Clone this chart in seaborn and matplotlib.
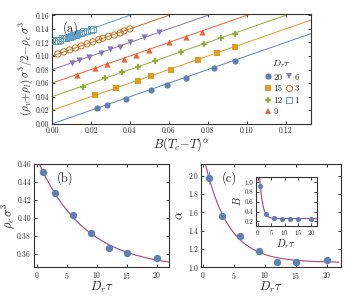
import numpy as np
import pandas as pd
import matplotlib
matplotlib.use("Agg")
import matplotlib.pyplot as plt
import seaborn as sns
from matplotlib.ticker import FormatStrFormatter, MultipleLocator
from matplotlib.lines import Line2D

# ---- panel (a): scaled order parameter vs B(Tc-T)^alpha, shifted by offset
dr_labels = ["20", "15", "12", "9", "6", "3", "1"]
offsets = [0.00, 0.02, 0.04, 0.06, 0.08, 0.10, 0.12]
colors = ["#5E81B5", "#E19C24", "#8FB131", "#EB6235", "#8778B6", "#C56E1A", "#5D9EC7"]
markers = ["o", "s", "P", "^", "v", "o", "s"]
filled = [True, True, True, True, True, False, False]

x20 = [0.023, 0.028, 0.038, 0.051, 0.059, 0.069, 0.083, 0.094]
y20 = [0.023, 0.028, 0.037, 0.050, 0.057, 0.068, 0.082, 0.092]
x15 = [0.022, 0.033, 0.044, 0.051, 0.061, 0.075, 0.085, 0.094]
y15 = [0.042, 0.053, 0.063, 0.070, 0.080, 0.094, 0.105, 0.113]
x12 = [0.016, 0.027, 0.036, 0.044, 0.053, 0.066, 0.078, 0.087, 0.094]
y12 = [0.055, 0.067, 0.076, 0.084, 0.093, 0.106, 0.118, 0.127, 0.133]
x9 = [0.013, 0.022, 0.028, 0.037, 0.043, 0.050, 0.060, 0.069, 0.077]
y9 = [0.072, 0.082, 0.088, 0.096, 0.102, 0.109, 0.120, 0.128, 0.136]
x6 = [0.010, 0.014, 0.019, 0.025, 0.030, 0.035, 0.040, 0.047, 0.055]
y6 = [0.090, 0.094, 0.099, 0.105, 0.110, 0.114, 0.121, 0.128, 0.135]
x3 = [0.003, 0.006, 0.009, 0.012, 0.015, 0.018, 0.021, 0.024, 0.026,
      0.029, 0.032, 0.035, 0.037, 0.040]
y3 = [0.103, 0.106, 0.109, 0.112, 0.115, 0.118, 0.121, 0.124, 0.126,
      0.129, 0.131, 0.134, 0.137, 0.140]
x1 = [0.001, 0.002, 0.003, 0.004, 0.005, 0.006, 0.007, 0.008, 0.009, 0.010,
      0.011, 0.012, 0.013, 0.014, 0.015, 0.016, 0.018, 0.020, 0.021]
y1 = [0.122, 0.123, 0.123, 0.124, 0.126, 0.126, 0.127, 0.128, 0.128, 0.130,
      0.131, 0.131, 0.133, 0.134, 0.134, 0.136, 0.137, 0.139, 0.140]
xs_a = [x20, x15, x12, x9, x6, x3, x1]
ys_a = [y20, y15, y12, y9, y6, y3, y1]

# ---- panels (b), (c), inset
dr = [1, 3, 6, 9, 12, 15, 20]
rho_c = [0.451, 0.428, 0.403, 0.383, 0.367, 0.361, 0.355]
alpha = [1.98, 1.56, 1.345, 1.178, 1.063, 1.063, 1.085]
alpha_err = [0.07, 0.035, 0.03, 0.02, 0.015, 0.015, 0.02]
B_amp = [0.92, 0.355, 0.275, 0.255, 0.25, 0.25, 0.255]


def exp_fit(x, y):
    # y = a + b exp(-x/c): grid over c, linear least squares for a, b
    x = np.asarray(x, float)
    y = np.asarray(y, float)
    best = None
    for c in np.linspace(0.3, 20, 2000):
        A = np.column_stack([np.ones_like(x), np.exp(-x / c)])
        coef, *_ = np.linalg.lstsq(A, y, rcond=None)
        r = np.sum((A @ coef - y) ** 2)
        if best is None or r < best[0]:
            best = (r, coef[0], coef[1], c)
    _, a, b, c = best
    return lambda t: a + b * np.exp(-t / c)


sns.set_theme(style="ticks")
plt.rcParams.update({
    "font.family": "serif",
    "font.serif": ["cmr10", "DejaVu Serif"],
    "mathtext.fontset": "cm",
    "axes.formatter.use_mathtext": True,
    "axes.linewidth": 0.8,
    "axes.edgecolor": "#333333",
    "xtick.direction": "in",
    "ytick.direction": "in",
    "xtick.top": True,
    "ytick.right": True,
    "xtick.major.size": 2.5,
    "ytick.major.size": 2.5,
    "xtick.major.width": 0.6,
    "ytick.major.width": 0.6,
    "xtick.labelsize": 5.5,
    "ytick.labelsize": 5.5,
    "xtick.major.pad": 2,
    "ytick.major.pad": 2,
})

fig = plt.figure(figsize=(3.47, 2.97), dpi=100)
ax_a = fig.add_axes([0.150, 0.583, 0.746, 0.370])
ax_b = fig.add_axes([0.097, 0.100, 0.390, 0.348])
ax_c = fig.add_axes([0.578, 0.100, 0.404, 0.348])
ax_in = fig.add_axes([0.738, 0.240, 0.175, 0.165])

fit_col = "#A8457E"
pt_col = "#5E81B5"

# (a)
xline = np.linspace(0, 0.133, 50)
handles = []
for lab, off, col, mk, fl, xs, ys in zip(dr_labels, offsets, colors, markers,
                                         filled, xs_a, ys_a):
    ax_a.plot(xline, xline + off, color=col, lw=0.7, zorder=1)
    df = pd.DataFrame({"x": xs, "y": ys})
    if fl:
        sns.scatterplot(data=df, x="x", y="y", ax=ax_a, marker=mk, color=col,
                        s=20, linewidth=0, zorder=3)
    else:
        sns.scatterplot(data=df, x="x", y="y", ax=ax_a, marker=mk,
                        facecolors="none", edgecolor=col, s=20,
                        linewidth=0.7, zorder=3)
    handles.append(Line2D([], [], ls="none", marker=mk, markersize=4.5,
                          color=col, markerfacecolor=col if fl else "none",
                          markeredgewidth=0 if fl else 0.7, label=lab))
ax_a.set_xlim(0, 0.133)
ax_a.set_ylim(0, 0.162)
ax_a.xaxis.set_major_locator(MultipleLocator(0.02))
ax_a.yaxis.set_major_locator(MultipleLocator(0.02))
ax_a.xaxis.set_major_formatter(FormatStrFormatter("%.2f"))
ax_a.yaxis.set_major_formatter(FormatStrFormatter("%.2f"))
ax_a.set_xlabel(r"$B(T_c\!-\!T)^\alpha$", fontsize=9, labelpad=0)
ax_a.set_ylabel(r"$(\rho_v\!+\!\rho_l)\,\sigma^3/2\!-\!\rho_c\,\sigma^3$",
                fontsize=8, labelpad=1)
ax_a.text(0.04, 0.93, "(a)", transform=ax_a.transAxes, fontsize=9, va="top")
leg = ax_a.legend(handles=handles, ncol=2, loc="lower right",
                  bbox_to_anchor=(0.975, 0.02), frameon=False, fontsize=6.5,
                  title=r"$D_r\tau$", title_fontsize=7, handlelength=0.8,
                  handletextpad=0.2, columnspacing=0.3, labelspacing=0.35,
                  borderpad=0.1)

# (b)
xfit = np.linspace(-0.5, 22, 200)
f_b = exp_fit(dr, rho_c)
ax_b.plot(xfit, f_b(xfit), color=fit_col, lw=0.8, zorder=1)
sns.scatterplot(x=dr, y=rho_c, ax=ax_b, color=pt_col, s=28, linewidth=0,
                zorder=3)
ax_b.set_xlim(-0.5, 22)
ax_b.set_ylim(0.345, 0.46)
ax_b.xaxis.set_major_locator(MultipleLocator(5))
ax_b.yaxis.set_major_locator(MultipleLocator(0.02))
ax_b.yaxis.set_major_formatter(FormatStrFormatter("%.2f"))
ax_b.set_xlabel(r"$D_r\tau$", fontsize=9, labelpad=-1)
ax_b.set_ylabel(r"$\rho_c\,\sigma^3$", fontsize=9, labelpad=0)
ax_b.text(0.17, 0.93, "(b)", transform=ax_b.transAxes, fontsize=9, va="top")

# (c)
f_c = exp_fit(dr, alpha)
ax_c.plot(xfit, f_c(xfit), color=fit_col, lw=0.8, zorder=1)
ax_c.errorbar(dr, alpha, yerr=alpha_err, fmt="none", ecolor="#8FA8D0",
              elinewidth=0.8, zorder=2)
sns.scatterplot(x=dr, y=alpha, ax=ax_c, color=pt_col, s=28, linewidth=0,
                zorder=3)
ax_c.set_xlim(-0.4, 22.3)
ax_c.set_ylim(1.0, 2.13)
ax_c.xaxis.set_major_locator(MultipleLocator(5))
ax_c.yaxis.set_major_locator(MultipleLocator(0.2))
ax_c.yaxis.set_major_formatter(FormatStrFormatter("%.1f"))
ax_c.set_xlabel(r"$D_r\tau$", fontsize=9, labelpad=-1)
ax_c.set_ylabel(r"$\alpha$", fontsize=9, labelpad=1)
ax_c.text(0.15, 0.93, "(c)", transform=ax_c.transAxes, fontsize=9, va="top")

# inset
xfit_in = np.linspace(-0.6, 22, 300)
f_in = exp_fit(dr, B_amp)
ax_in.plot(xfit_in, f_in(xfit_in), color=fit_col, lw=0.8, zorder=1)
sns.scatterplot(x=dr, y=B_amp, ax=ax_in, color=pt_col, s=14, linewidth=0,
                zorder=3)
ax_in.set_xlim(-0.6, 22)
ax_in.set_ylim(0.11, 1.11)
ax_in.xaxis.set_major_locator(MultipleLocator(5))
ax_in.yaxis.set_major_locator(MultipleLocator(0.2))
ax_in.yaxis.set_major_formatter(FormatStrFormatter("%.1f"))
ax_in.tick_params(labelsize=5, length=2)
ax_in.set_xlabel(r"$D_r\tau$", fontsize=7.5, labelpad=0)
ax_in.set_ylabel(r"$B$", fontsize=7.5, labelpad=1)

for ax in (ax_a, ax_b, ax_c, ax_in):
    for sp in ax.spines.values():
        sp.set_visible(True)

fig.savefig("out.png", dpi=100)
